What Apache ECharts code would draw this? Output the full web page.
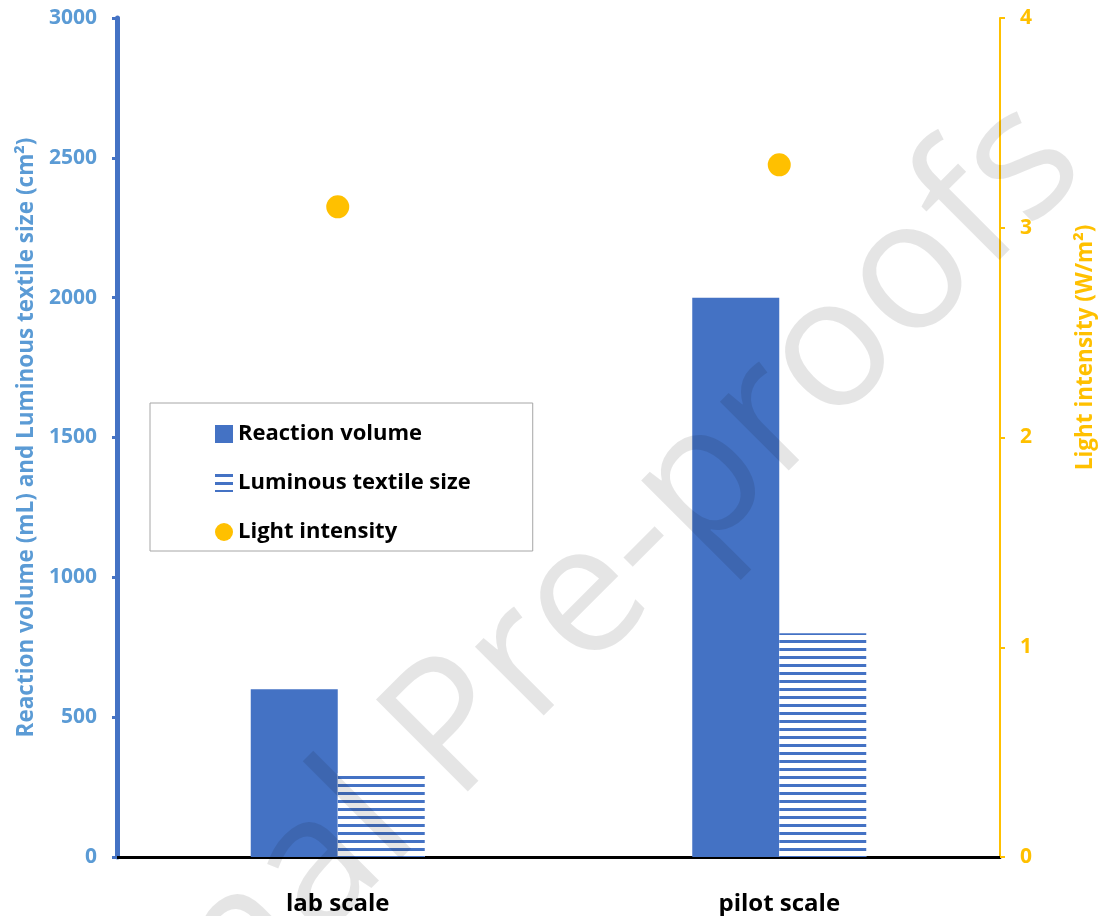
<!DOCTYPE html>
<html>
<head>
<meta charset="utf-8">
<script src="https://cdn.jsdelivr.net/npm/echarts@6/dist/echarts.min.js"></script>
<style>
html,body{margin:0;padding:0;background:#fff;}
#chart{width:1098px;height:916px;}
</style>
</head>
<body>
<div id="chart"></div>
<script>
const categories = ['lab scale', 'pilot scale'];
const reactionVolume = [600, 2000];
const textileSize = [300, 800];
const lightIntensity = [3.1, 3.3];
const leftTicks = { min: 0, max: 3000, interval: 500 };
const rightTicks = { min: 0, max: 4, interval: 1 };
const seriesNames = ['Reaction volume', 'Luminous textile size', 'Light intensity'];
const leftAxisName = 'Reaction volume (mL) and Luminous textile size (cm²)';
const rightAxisName = 'Light intensity (W/m²)';
const watermark = 'Journal Pre-proofs';

const FONT = 'Open Sans';
const chart = echarts.init(document.getElementById('chart'), null, { renderer: 'canvas' });

chart.setOption({
  animation: false,
  backgroundColor: '#fff',
  textStyle: { fontFamily: FONT },
  grid: { left: 117, right: 98, top: 18, bottom: 59, containLabel: false, outerBoundsMode: 'none' },
  legend: {
    orient: 'vertical',
    left: 150, top: 403,
    padding: [20, 62, 8, 65],
    itemGap: 27,
    itemWidth: 18, itemHeight: 18,
    borderColor: '#a6a6a6', borderWidth: 1,
    textStyle: { fontFamily: FONT, fontWeight: 'bold', fontSize: 22, color: '#000' },
    data: [
      { name: seriesNames[0], icon: 'rect' },
      { name: seriesNames[1], icon: 'rect' },
      { name: seriesNames[2], icon: 'circle' }
    ]
  },
  xAxis: [
    {
      type: 'category', data: categories, position: 'bottom',
      axisLine: { lineStyle: { color: '#000', width: 3 } },
      axisTick: { show: false },
      axisLabel: { color: '#000', fontFamily: FONT, fontWeight: 'bold', fontSize: 24, margin: 35 }
    },
    {
      type: 'category', data: categories, position: 'top',
      axisLine: { lineStyle: { color: '#000', width: 2 } },
      axisTick: { show: false }, axisLabel: { show: false }
    }
  ],
  yAxis: [
    {
      type: 'value', position: 'left',
      min: leftTicks.min, max: leftTicks.max, interval: leftTicks.interval,
      splitLine: { show: false },
      axisLine: { show: true, lineStyle: { color: '#4472C4', width: 5 } },
      axisTick: { show: true, length: 5, lineStyle: { color: '#4472C4', width: 3 } },
      axisLabel: { color: '#5B9BD5', fontFamily: FONT, fontWeight: 'bold', fontSize: 21, margin: 20,
        padding: [9, 0, 0, 0], formatter: v => String(v) },
      name: leftAxisName, nameLocation: 'middle', nameRotate: 90, nameGap: 79,
      nameTextStyle: { color: '#5B9BD5', fontFamily: FONT, fontWeight: 'bold', fontSize: 22.5 }
    },
    {
      type: 'value', position: 'right',
      min: rightTicks.min, max: rightTicks.max, interval: rightTicks.interval,
      splitLine: { show: false },
      axisLine: { show: true, lineStyle: { color: '#FFC000', width: 2 } },
      axisTick: { show: true, length: 5, lineStyle: { color: '#FFC000', width: 2 } },
      axisLabel: { color: '#FFC000', fontFamily: FONT, fontWeight: 'bold', fontSize: 21, margin: 20,
        padding: [9, 0, 0, 0], formatter: v => String(v) },
      name: rightAxisName, nameLocation: 'middle', nameRotate: 90, nameGap: 74,
      nameTextStyle: { color: '#FFC000', fontFamily: FONT, fontWeight: 'bold', fontSize: 22.5, padding: [0, 0, 0, 180] }
    }
  ],
  series: [
    {
      name: seriesNames[0], type: 'bar', data: reactionVolume,
      barWidth: 87, barGap: '0%',
      itemStyle: { color: '#4472C4' }
    },
    {
      name: seriesNames[1], type: 'bar', data: textileSize,
      barWidth: 87, barGap: '0%',
      itemStyle: {
        color: '#ffffff',
        decal: { symbol: 'rect', symbolSize: 1, dashArrayX: [1, 0], dashArrayY: [3, 5], rotation: 0, color: '#4472C4' }
      }
    },
    {
      name: seriesNames[2], type: 'scatter', yAxisIndex: 1, data: lightIntensity,
      symbol: 'circle', symbolSize: 23,
      itemStyle: { color: '#FFC000', opacity: 1 }
    }
  ],
  graphic: [
    {
      type: 'text', x: 506, y: 680, rotation: Math.PI / 4, z: 100, silent: true,
      style: { text: watermark, font: 'normal 182px "Open Sans"', fill: 'rgba(0,0,0,0.1)', textAlign: 'center', textVerticalAlign: 'middle' }
    }
  ]
});
</script>
</body>
</html>
